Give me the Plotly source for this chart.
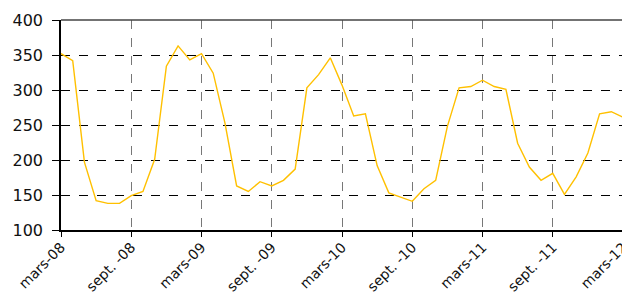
import plotly.graph_objects as go

months = list(range(49))
values = [352, 342, 197, 142, 138, 138, 149, 155, 201, 334, 363, 343,
          352, 324, 253, 163, 155, 169, 163, 171, 187, 303, 322, 346,
          307, 263, 266, 192, 153, 147, 141, 159, 171, 248, 303, 305,
          314, 305, 301, 224, 190, 171, 181, 151, 176, 210, 266, 269,
          261]
tick_vals = [0, 6, 12, 18, 24, 30, 36, 42, 48]
tick_text = ["mars-08", "sept. -08", "mars-09", "sept. -09", "mars-10",
             "sept. -10", "mars-11", "sept. -11", "mars-12"]
y_ticks = [100, 150, 200, 250, 300, 350, 400]

fig = go.Figure()
fig.add_trace(go.Scatter(x=months, y=values, mode="lines",
                         line=dict(color="#FFC000", width=1.4),
                         showlegend=False, hoverinfo="skip"))

fig.update_layout(
    width=622, height=289,
    margin=dict(l=53, r=7, t=12, b=67),
    paper_bgcolor="white", plot_bgcolor="white",
    font=dict(family="DejaVu Sans", size=16, color="#111111"),
    xaxis=dict(range=[0, 48], tickvals=tick_vals, ticktext=tick_text,
               tickangle=-45, tickfont=dict(size=14), automargin=False,
               ticklabeloverflow="allow", ticklabelstandoff=-3,
               showgrid=True, gridcolor="#777777", griddash="dash", gridwidth=1,
               showline=True, linecolor="black", linewidth=1.5,
               ticks="outside", ticklen=5, tickcolor="black",
               zeroline=False, fixedrange=True),
    yaxis=dict(range=[100, 400], tickvals=y_ticks, automargin=False,
               tickfont=dict(size=16), ticklabelstandoff=6,
               showgrid=True, gridcolor="black", griddash="dash", gridwidth=1,
               showline=True, linecolor="black", linewidth=1.5,
               ticks="outside", ticklen=7, tickcolor="black",
               zeroline=False, fixedrange=True),
)
fig.add_shape(type="line", xref="paper", yref="paper", x0=0, x1=1, y0=1, y1=1,
              line=dict(color="#444444", width=1.5))
fig.add_shape(type="line", xref="paper", yref="paper", x0=1, x1=1, y0=0, y1=1,
              line=dict(color="#444444", width=1, dash="dash"))

fig.write_html("out.html")
